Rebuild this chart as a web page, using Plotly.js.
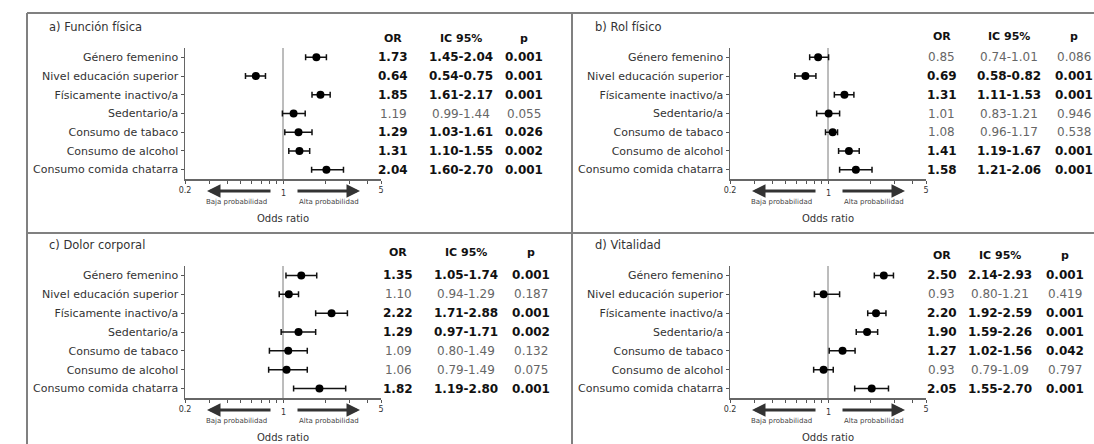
<!DOCTYPE html>
<html><head><meta charset="utf-8">
<script src="https://cdn.plot.ly/plotly-3.0.1.min.js"></script>
<style>html,body{margin:0;padding:0;background:#fff}</style>
</head><body><div id="chart" style="width:1094px;height:444px"></div>
<script>
// ---------- data ----------
const factors = ["Género femenino","Nivel educación superior","Físicamente inactivo/a","Sedentario/a","Consumo de tabaco","Consumo de alcohol","Consumo comida chatarra"];

const titleA = "a) Función física";
const orA = [1.73, 0.64, 1.85, 1.19, 1.29, 1.31, 2.04];
const icA = ["1.45-2.04","0.54-0.75","1.61-2.17","0.99-1.44","1.03-1.61","1.10-1.55","1.60-2.70"];
const pA  = ["0.001","0.001","0.001","0.055","0.026","0.002","0.001"];

const titleB = "b) Rol físico";
const orB = [0.85, 0.69, 1.31, 1.01, 1.08, 1.41, 1.58];
const icB = ["0.74-1.01","0.58-0.82","1.11-1.53","0.83-1.21","0.96-1.17","1.19-1.67","1.21-2.06"];
const pB  = ["0.086","0.001","0.001","0.946","0.538","0.001","0.001"];

const titleC = "c) Dolor corporal";
const orC = [1.35, 1.10, 2.22, 1.29, 1.09, 1.06, 1.82];
const icC = ["1.05-1.74","0.94-1.29","1.71-2.88","0.97-1.71","0.80-1.49","0.79-1.49","1.19-2.80"];
const pC  = ["0.001","0.187","0.001","0.002","0.132","0.075","0.001"];

const titleD = "d) Vitalidad";
const orD = [2.50, 0.93, 2.20, 1.90, 1.27, 0.93, 2.05];
const icD = ["2.14-2.93","0.80-1.21","1.92-2.59","1.59-2.26","1.02-1.56","0.79-1.09","1.55-2.70"];
const pD  = ["0.001","0.419","0.001","0.001","0.042","0.797","0.001"];

const tickVals = [0.2,0.3,0.4,0.5,0.6,0.7,0.8,0.9,1,2,3,4,5];
const tickText = ["0.2","","","","","","","","","","","","5"];
const centerTick = "1";
const headers = ["OR","IC 95%","p"];
const lowLabel = "Baja probabilidad";
const highLabel = "Alta probabilidad";
const xTitle = "Odds ratio";
const refOR = 1;

// ---------- layout helpers ----------
const W = 1094, H = 444;
const PX = v => v / W;
const PY = v => 1 - v / H;
const FONT = "DejaVu Sans";

const panels = [
  {title: titleA, or: orA, ic: icA, p: pA, axL: 185, top: 48,  bot: 179, tx: 47,  ty: 27,  hy: 38,  cols: [393, 461, 524]},
  {title: titleB, or: orB, ic: icB, p: pB, axL: 730, top: 48,  bot: 179, tx: 593, ty: 27,  hy: 36,  cols: [942, 1009, 1074]},
  {title: titleC, or: orC, ic: icC, p: pC, axL: 185, top: 266, bot: 398, tx: 47,  ty: 245, hy: 253, cols: [398, 466, 531]},
  {title: titleD, or: orD, ic: icD, p: pD, axL: 730, top: 266, bot: 398, tx: 593, ty: 245, hy: 255, cols: [942, 1000, 1065]}
];
const AXW = 196;

const traces = [];
const annotations = [];
const shapes = [];
const layout = {
  width: W, height: H,
  margin: {l: 0, r: 0, t: 0, b: 0},
  paper_bgcolor: "#fff", plot_bgcolor: "rgba(0,0,0,0)",
  showlegend: false,
  font: {family: FONT, color: "#222"},
  annotations, shapes
};

const idx = factors.map((_, i) => i);

panels.forEach((pn, k) => {
  const n = k === 0 ? "" : String(k + 1);
  const xa = "x" + n, ya = "y" + n;
  const lo = pn.ic.map(s => parseFloat(s.split("-")[0]));
  const hi = pn.ic.map(s => parseFloat(s.split("-")[1]));

  // reference line at OR = 1
  traces.push({
    x: [refOR, refOR], y: [-0.5, factors.length - 0.5],
    xaxis: xa, yaxis: ya, mode: "lines",
    line: {color: "#7a7a7a", width: 1}, hoverinfo: "skip"
  });
  // points with CI
  traces.push({
    x: pn.or, y: idx, xaxis: xa, yaxis: ya, mode: "markers",
    marker: {color: "#000", size: 8},
    error_x: {type: "data", symmetric: false,
      array: pn.or.map((v, i) => hi[i] - v),
      arrayminus: pn.or.map((v, i) => v - lo[i]),
      color: "#111", thickness: 1.5, width: 3}
  });

  layout["xaxis" + n] = {
    domain: [PX(pn.axL), PX(pn.axL + AXW)], anchor: ya,
    type: "log", range: [Math.log10(0.2), Math.log10(5)],
    tickvals: tickVals, ticktext: tickText,
    ticks: "outside", ticklen: 3, tickwidth: 1, tickcolor: "#555",
    showline: true, linecolor: "#666", linewidth: 1.5,
    showgrid: false, zeroline: false,
    tickfont: {family: FONT, size: 8, color: "#333"}
  };
  layout["yaxis" + n] = {
    domain: [PY(pn.bot), PY(pn.top)], anchor: xa,
    range: [factors.length - 0.5, -0.5],
    tickvals: idx, ticktext: factors,
    ticks: "outside", ticklen: 3, tickwidth: 1, tickcolor: "#555",
    showline: true, linecolor: "#666", linewidth: 1.5,
    showgrid: false, zeroline: false,
    tickfont: {family: FONT, size: 11, color: "#333"}
  };

  // centre tick label "1", set a little lower between the arrows
  annotations.push({xref: xa, yref: "paper", x: Math.log10(refOR), y: PY(pn.bot + 14),
    xanchor: "center", yanchor: "middle", showarrow: false, text: centerTick,
    font: {family: FONT, size: 8, color: "#333"}});

  // panel title
  annotations.push({xref: "paper", yref: "paper", x: PX(pn.tx), y: PY(pn.ty),
    xanchor: "left", yanchor: "middle", showarrow: false, text: pn.title,
    font: {family: FONT, size: 11.5, color: "#333"}});

  // table header
  headers.forEach((h, c) => annotations.push({xref: "paper", yref: "paper",
    x: PX(pn.cols[c]), y: PY(pn.hy), xanchor: "center", yanchor: "middle",
    showarrow: false, text: "<b>" + h + "</b>",
    font: {family: FONT, size: 11, color: "#111"}}));

  // table rows
  factors.forEach((f, i) => {
    const sig = parseFloat(pn.p[i]) < 0.05;
    const vals = [pn.or[i].toFixed(2), pn.ic[i], pn.p[i]];
    vals.forEach((v, c) => annotations.push({xref: "paper", yref: ya,
      x: PX(pn.cols[c]), y: i, xanchor: "center", yanchor: "middle",
      showarrow: false, text: sig ? "<b>" + v + "</b>" : v,
      font: {family: FONT, size: 12, color: sig ? "#111" : "#666"}}));
  });

  // direction arrows
  const ay = pn.bot + 12;
  annotations.push({xref: "paper", yref: "paper", x: PX(pn.axL + 22), y: PY(ay),
    ax: 65, ay: 0, axref: "pixel", ayref: "pixel", text: "", showarrow: true,
    arrowhead: 2, arrowsize: 0.9, arrowwidth: 3, arrowcolor: "#333"});
  annotations.push({xref: "paper", yref: "paper", x: PX(pn.axL + 175), y: PY(ay),
    ax: -64, ay: 0, axref: "pixel", ayref: "pixel", text: "", showarrow: true,
    arrowhead: 2, arrowsize: 0.9, arrowwidth: 3, arrowcolor: "#333"});
  annotations.push({xref: "paper", yref: "paper", x: PX(pn.axL + 51), y: PY(pn.bot + 23),
    xanchor: "center", yanchor: "middle", showarrow: false, text: lowLabel,
    font: {family: FONT, size: 7, color: "#444"}});
  annotations.push({xref: "paper", yref: "paper", x: PX(pn.axL + 144), y: PY(pn.bot + 23),
    xanchor: "center", yanchor: "middle", showarrow: false, text: highLabel,
    font: {family: FONT, size: 7, color: "#444"}});
  annotations.push({xref: "paper", yref: "paper", x: PX(pn.axL + 98), y: PY(pn.bot + 39),
    xanchor: "center", yanchor: "middle", showarrow: false, text: xTitle,
    font: {family: FONT, size: 10, color: "#333"}});
});

// frame lines
const frame = {xref: "paper", yref: "paper", type: "line", line: {color: "#808080", width: 2}};
shapes.push(Object.assign({}, frame, {x0: PX(27), x1: PX(27), y0: PY(13), y1: PY(444)}));
shapes.push(Object.assign({}, frame, {x0: PX(27), x1: PX(1094), y0: PY(13), y1: PY(13)}));
shapes.push(Object.assign({}, frame, {x0: PX(572), x1: PX(572), y0: PY(13), y1: PY(444)}));
shapes.push(Object.assign({}, frame, {x0: PX(27), x1: PX(1094), y0: PY(233), y1: PY(233)}));

Plotly.newPlot("chart", traces, layout, {staticPlot: true, displayModeBar: false});
</script></body></html>
